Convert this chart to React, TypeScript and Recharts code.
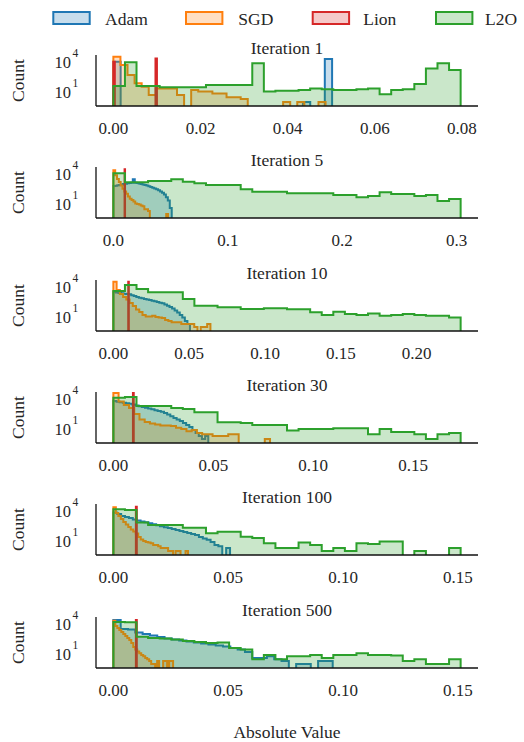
import React from 'react';
import { ComposedChart, Area, XAxis, YAxis } from 'recharts';

const FONT = '"Liberation Serif", "Times New Roman", Times, serif';
const INK = '#262626';

const seriesNames = ['Adam', 'SGD', 'Lion', 'L2O'];
const seriesColors = ['#1f77b4', '#ff7f0e', '#d62728', '#2ca02c'];

const iterations = [1, 5, 10, 30, 100, 500];
const panelTops = [55, 167, 280, 392, 504, 617];

// x tick values and labels per panel
const xTicks = [
  [0, 0.02, 0.04, 0.06, 0.08],
  [0, 0.1, 0.2, 0.3],
  [0, 0.05, 0.1, 0.15, 0.2],
  [0, 0.05, 0.1, 0.15],
  [0, 0.05, 0.1, 0.15],
  [0, 0.05, 0.1, 0.15],
];
const xTickLabels = [
  ['0.00', '0.02', '0.04', '0.06', '0.08'],
  ['0.0', '0.1', '0.2', '0.3'],
  ['0.00', '0.05', '0.10', '0.15', '0.20'],
  ['0.00', '0.05', '0.10', '0.15'],
  ['0.00', '0.05', '0.10', '0.15'],
  ['0.00', '0.05', '0.10', '0.15'],
];
const yTicks = [10, 10000];
const Y_MIN = Math.pow(10, -0.4);
const Y_MAX = Math.pow(10, 4.7);

// histogram ranges (max absolute value) per panel
const adamHi = [0.0502, 0.051, 0.0505, 0.0475, 0.0508, 0.0955];
const sgdHi = [0.0487, 0.0478, 0.064, 0.0784, 0.0325, 0.026];
const l2oHi = [0.0797, 0.3035, 0.229, 0.1738, 0.1512, 0.1512];
const lionLo = [0, 0.0098, 0.0098, 0.0098, 0.0098, 0.0098];
const lionHi = [0.01, 0.0102, 0.0102, 0.0102, 0.0102, 0.0102];

// Iteration 1
const it1Adam = [10700, 0, 0, 0, 0, 0, 0, 0, 0, 0, 0, 0, 0, 0, 0, 0, 0, 0, 0, 0, 0, 0, 0, 0, 0, 0, 1, 0, 0, 20000];
const it1Sgd = [34000, 5000, 500, 74, 34, 5, 23, 23, 23, 5, 0, 16, 11, 11, 7, 7, 3, 3, 2, 0, 0, 0, 0, 0, 1, 0, 1, 0, 0, 1];
const it1Lion = [10700, 0, 0, 0, 0, 0, 0, 0, 0, 0, 0, 0, 0, 0, 0, 0, 0, 0, 0, 0, 0, 0, 0, 0, 0, 0, 0, 0, 0, 23000];
const it1L2o = [40, 9300, 40, 40, 30, 30, 30, 30, 50, 50, 50, 50, 7400, 11, 13, 13, 16, 23, 19, 16, 16, 19, 23, 6, 16, 19, 63, 2300, 7400, 1600];

// Iteration 5
const it5Adam = [630, 680, 740, 790, 890, 1000, 1070, 1175, 1260, 1320, 2950, 1350, 1260, 1120, 1000, 890, 790, 710, 600, 500, 417, 355, 295, 234, 178, 132, 89, 48, 22, 4];
const it5Sgd = [23400, 7400, 3160, 1585, 708, 339, 178, 107, 56, 34, 25, 18, 11, 10, 9, 7, 6, 3, 3, 2, 0, 0, 0, 0, 0, 0, 0, 0, 0, 1];
const it5Lion = [29500];
const it5L2o = [11700, 1480, 1480, 2000, 2000, 2950, 1700, 1175, 790, 790, 790, 295, 170, 170, 170, 117, 117, 117, 117, 79, 79, 47, 63, 148, 100, 100, 63, 79, 20, 32];

// Iteration 10
const it10Adam = [3160, 2820, 2510, 2340, 2140, 2000, 1860, 1510, 1260, 1000, 850, 740, 630, 560, 500, 427, 372, 316, 269, 234, 178, 132, 100, 71, 45, 28, 16, 9, 4, 2];
const it10Sgd = [33900, 5000, 2000, 1000, 560, 251, 126, 56, 32, 16, 11, 11, 13, 10, 9, 8, 5, 4, 3, 3, 3, 2, 2, 2, 2, 1, 0, 1, 1, 2];
const it10Lion = [33900];
const it10L2o = [4000, 15800, 6300, 2950, 2950, 2950, 630, 135, 135, 93, 93, 63, 63, 74, 74, 59, 59, 30, 16, 34, 20, 16, 23, 13, 16, 20, 16, 13, 13, 9];

// Iteration 30
const it30Adam = [6300, 5370, 4790, 4170, 3720, 3390, 2820, 2240, 1900, 1585, 1320, 1120, 930, 760, 630, 525, 398, 282, 191, 126, 89, 63, 40, 25, 16, 8, 4, 2, 1, 2];
const it30Sgd = [39800, 5600, 2500, 1260, 316, 89, 50, 35, 28, 23, 23, 20, 13, 10, 6, 8, 4, 3, 3, 2, 2, 2, 3, 3, 0, 0, 0, 0, 0, 1];
const it30Lion = [39800];
const it30L2o = [13500, 15800, 2000, 2000, 2000, 1260, 1000, 468, 468, 47, 47, 40, 25, 25, 25, 7, 10, 10, 10, 12, 12, 12, 3, 10, 5, 5, 3, 1, 3, 4];

// Iteration 100
const it100Adam = [7080, 5010, 3160, 2510, 2000, 1410, 1120, 890, 740, 590, 468, 372, 295, 234, 200, 158, 126, 100, 79, 63, 50, 40, 25, 18, 13, 8, 4, 3, 0, 2];
const it100Sgd = [23400, 6300, 3160, 1585, 794, 447, 251, 141, 89, 56, 25, 14, 10, 8, 7, 6, 4, 4, 3, 2, 2, 2, 1, 1, 0, 1, 1, 0, 0, 1];
const it100Lion = [27000];
const it100L2o = [14800, 12600, 708, 398, 398, 398, 214, 214, 59, 85, 85, 27, 20, 6, 2, 2, 7, 4, 1, 2, 1, 6, 5, 9, 9, 0, 1, 0, 0, 2];

// Iteration 500
const it500Adam = [25100, 3160, 2820, 1410, 1000, 708, 501, 355, 282, 224, 178, 141, 112, 89, 71, 56, 40, 28, 16, 4, 4, 6, 3, 2, 0, 1, 1, 0, 2, 2];
const it500Sgd = [21400, 6300, 3980, 2510, 1585, 1000, 631, 398, 251, 126, 50, 28, 18, 12, 8, 6, 4, 3, 2, 1, 1, 0, 2, 0, 0, 2, 2, 0, 2, 2];
const it500Lion = [25100];
const it500L2o = [15800, 14800, 537, 398, 355, 282, 200, 158, 126, 141, 40, 28, 3, 8, 3, 6, 6, 8, 4, 8, 8, 12, 8, 8, 7, 2, 3, 1, 1, 3];

const adamCounts = [it1Adam, it5Adam, it10Adam, it30Adam, it100Adam, it500Adam];
const sgdCounts = [it1Sgd, it5Sgd, it10Sgd, it30Sgd, it100Sgd, it500Sgd];
const lionCounts = [it1Lion, it5Lion, it10Lion, it30Lion, it100Lion, it500Lion];
const l2oCounts = [it1L2o, it5L2o, it10L2o, it30L2o, it100L2o, it500L2o];

const TINY = 1e-3;

function stepPoints(counts: number[], lo: number, hi: number) {
  const n = counts.length;
  const w = (hi - lo) / n;
  const pts: { x: number; y: number }[] = [{ x: lo, y: TINY }];
  counts.forEach((c, i) => pts.push({ x: lo + i * w, y: c > 0 ? c : TINY }));
  pts.push({ x: hi, y: TINY });
  return pts;
}

const PLOT_TOP = 16;
const PLOT_H = 51;
const AXIS_Y = PLOT_TOP + PLOT_H;
const CHART_H = PLOT_TOP + PLOT_H + 40;

const YTick = (props: any) => {
  const { y, payload } = props;
  const exp = Math.round(Math.log10(payload.value));
  return (
    <text x={54.5} y={y + 6} fontFamily={FONT} fontSize={16.5} fill={INK}>
      <tspan>10</tspan>
      <tspan dx={1.5} dy={-11} fontSize={11.5}>{exp}</tspan>
    </text>
  );
};

function makeXTick(p: number) {
  return (props: any) => {
    const { x, payload } = props;
    const idx = xTicks[p].findIndex((v) => Math.abs(v - payload.value) < 1e-9);
    return (
      <text x={x} y={AXIS_Y + 28} textAnchor="middle" fontFamily={FONT} fontSize={17} fill={INK}>
        {idx >= 0 ? xTickLabels[p][idx] : ''}
      </text>
    );
  };
}

function Panel({ p }: { p: number }) {
  const max = l2oHi[p];
  const series = [
    stepPoints(adamCounts[p], 0, adamHi[p]),
    stepPoints(sgdCounts[p], 0, sgdHi[p]),
    stepPoints(lionCounts[p], lionLo[p], lionHi[p]),
    stepPoints(l2oCounts[p], 0, l2oHi[p]),
  ];
  return (
    <div style={{ position: 'absolute', left: 0, top: panelTops[p] - PLOT_TOP }}>
      <ComposedChart width={524} height={CHART_H} margin={{ top: PLOT_TOP, right: 46, bottom: 0, left: 36 }}>
        <XAxis
          type="number"
          dataKey="x"
          domain={[-0.05 * max, 1.05 * max]}
          allowDataOverflow
          ticks={xTicks[p]}
          interval={0}
          tick={makeXTick(p)}
          tickLine={false}
          axisLine={{ stroke: '#111', strokeWidth: 1.3 }}
          height={40}
        />
        <YAxis
          type="number"
          dataKey="y"
          scale="log"
          domain={[Y_MIN, Y_MAX]}
          allowDataOverflow
          ticks={yTicks}
          interval={0}
          tick={<YTick />}
          tickLine={false}
          axisLine={{ stroke: '#111', strokeWidth: 1.3 }}
          width={60}
        />
        {series.map((pts, i) => (
          <Area
            key={seriesNames[i]}
            name={seriesNames[i]}
            data={pts}
            dataKey="y"
            type="stepAfter"
            stroke={seriesColors[i]}
            strokeWidth={2}
            fill={seriesColors[i]}
            fillOpacity={0.25}
            baseValue={Y_MIN}
            dot={false}
            activeDot={false}
            isAnimationActive={false}
          />
        ))}
      </ComposedChart>
    </div>
  );
}

const legendRectX = [53.3, 186, 312.7, 436];
const legendTextX = [105, 238.3, 363.3, 485];

export default function App() {
  return (
    <div style={{ position: 'absolute', left: 0, top: 0, width: 524, height: 742, background: '#fff' }}>
      <svg width={524} height={742} style={{ position: 'absolute', left: 0, top: 0 }}>
        {seriesNames.map((n, i) => (
          <g key={n}>
            <rect x={legendRectX[i]} y={12} width={36.4} height={12} fill={seriesColors[i]} fillOpacity={0.25} stroke={seriesColors[i]} strokeWidth={2} />
            <text x={legendTextX[i]} y={25} fontFamily={FONT} fontSize={17.5} fill={INK}>{n}</text>
          </g>
        ))}
        {iterations.map((it, p) => (
          <text key={'t' + it} x={287} y={panelTops[p] - 1} textAnchor="middle" fontFamily={FONT} fontSize={17.5} fill={INK}>
            {`Iteration ${it}`}
          </text>
        ))}
        {panelTops.map((t, p) => (
          <text key={'c' + p} transform={`translate(24, ${t + 25.5}) rotate(-90)`} textAnchor="middle" fontFamily={FONT} fontSize={17.5} fill={INK}>
            Count
          </text>
        ))}
        <text x={287} y={738} textAnchor="middle" fontFamily={FONT} fontSize={17.5} fill={INK}>Absolute Value</text>
      </svg>
      {iterations.map((it, p) => (
        <Panel key={it} p={p} />
      ))}
    </div>
  );
}
